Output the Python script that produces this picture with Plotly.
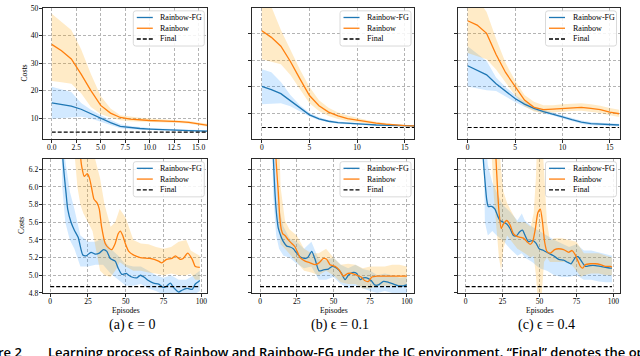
import plotly.graph_objects as go

W, H = 640, 356

# ------------------------------------------------------------------ data
FINAL_COST = 4.87
EP_TOP = list(range(17))

# top row: episodes 0..16
A_TOP_FG = [15.5, 15.0, 14.3, 13.2, 11.5, 9.8, 8.3, 7.0, 6.5, 6.2, 6.0, 5.8, 5.6, 5.5, 5.4, 5.3, 5.2]
A_TOP_FG_LO = [9.7, 10.0, 10.3, 10.5, 9.8, 8.6, 7.4, 6.3, 5.9, 5.7, 5.6, 5.4, 5.3, 5.2, 5.1, 5.0, 4.9]
A_TOP_FG_HI = [21.4, 20.5, 19.5, 15.5, 13.0, 11.0, 9.2, 7.7, 7.1, 6.7, 6.4, 6.2, 6.0, 5.8, 5.7, 5.6, 5.5]
A_TOP_R = [36.8, 34.5, 31.5, 26.0, 20.0, 14.6, 11.8, 10.2, 9.6, 9.3, 9.1, 9.0, 8.9, 8.7, 8.4, 7.9, 7.3]
A_TOP_R_LO = [23.5, 23.0, 22.5, 19.0, 14.0, 11.5, 10.2, 9.2, 8.8, 8.6, 8.5, 8.4, 8.3, 8.2, 7.9, 7.4, 6.8]
A_TOP_R_HI = [48.0, 45.0, 42.0, 35.0, 26.0, 18.0, 13.5, 11.0, 10.5, 10.1, 9.8, 9.6, 9.4, 9.2, 8.9, 8.4, 7.9]

B_TOP_FG = [20.2, 19.0, 17.5, 14.8, 12.0, 9.6, 8.1, 7.2, 6.7, 6.4, 6.2, 6.0, 5.8, 5.7, 5.6, 5.5, 5.45]
B_TOP_FG_LO = [13.5, 13.7, 13.9, 12.8, 10.8, 9.0, 7.6, 6.8, 6.3, 6.0, 5.9, 5.7, 5.55, 5.45, 5.35, 5.3, 5.25]
B_TOP_FG_HI = [26.6, 25.5, 21.8, 17.0, 13.2, 10.4, 8.7, 7.7, 7.1, 6.8, 6.5, 6.3, 6.1, 5.95, 5.85, 5.75, 5.7]
B_TOP_R = [41.0, 38.5, 35.2, 29.5, 23.0, 16.8, 13.0, 10.6, 9.2, 8.2, 7.6, 7.0, 6.5, 6.1, 5.8, 5.6, 5.5]
B_TOP_R_LO = [30.3, 29.5, 28.5, 24.5, 19.0, 13.9, 11.0, 9.2, 8.0, 7.2, 6.8, 6.3, 6.0, 5.7, 5.5, 5.35, 5.3]
B_TOP_R_HI = [56.0, 50.0, 41.3, 34.0, 26.5, 20.0, 15.0, 12.2, 10.5, 9.3, 8.4, 7.7, 7.0, 6.5, 6.1, 5.85, 5.7]

C_TOP_FG = [27.9, 26.3, 24.5, 21.2, 18.4, 15.7, 13.6, 12.0, 10.8, 9.9, 8.8, 7.8, 6.9, 6.3, 6.1, 6.0, 5.8]
C_TOP_FG_LO = [20.2, 19.5, 18.8, 18.5, 16.5, 14.4, 12.6, 11.2, 10.1, 9.3, 8.2, 7.2, 6.3, 5.7, 5.6, 5.5, 5.3]
C_TOP_FG_HI = [35.2, 32.5, 29.7, 23.5, 20.0, 17.0, 14.6, 12.8, 11.5, 10.5, 9.4, 8.4, 7.5, 6.9, 6.6, 6.5, 6.3]
C_TOP_R = [44.7, 43.1, 40.0, 32.1, 25.4, 20.0, 15.1, 12.4, 11.5, 11.7, 12.0, 12.3, 12.4, 12.0, 11.5, 10.6, 10.0]
C_TOP_R_LO = [32.7, 31.5, 30.3, 26.5, 21.5, 16.9, 12.8, 10.8, 10.2, 10.4, 10.8, 11.0, 11.1, 10.8, 10.3, 9.4, 8.8]
C_TOP_R_HI = [57.0, 53.0, 48.0, 38.0, 29.0, 22.4, 17.0, 14.5, 13.2, 13.2, 13.5, 13.8, 13.9, 13.5, 13.0, 12.1, 11.5]

# bottom row (a) eps = 0
A_BOT_FG_X = [0, 3, 6, 8.4, 10.5, 11.6, 13.8, 16, 18.5, 21.6, 23.8, 27, 29.8, 32.5, 35.3, 37.5, 39.7, 43, 45,
              47.4, 50.4, 52, 54, 57.4, 59.7, 62, 65, 68.4, 71.8, 75, 77.3, 79.5, 81.7, 85, 87.2, 90.5, 94, 96,
              98.3, 99]
A_BOT_FG = [15.5, 12.5, 8.0, 6.32, 5.93, 5.75, 5.60, 5.51, 5.43, 5.23, 5.22, 5.26, 5.24, 5.25, 5.29, 5.27, 5.19,
            5.16, 5.08, 5.01, 5.02, 5.00, 4.98, 4.97, 5.00, 4.98, 4.94, 4.91, 4.90, 4.86, 4.88, 4.91, 4.86, 4.81,
            4.83, 4.85, 4.84, 4.90, 4.93, 4.94]
A_BOT_FG_BX = [0, 5, 8, 10, 13, 16, 20, 25, 30, 35, 40, 45, 50, 55, 60, 65, 70, 75, 80, 85, 90, 95, 99]
A_BOT_FG_LO = [10.0, 9.0, 6.0, 5.6, 5.4, 5.3, 5.1, 5.1, 5.12, 5.12, 5.02, 4.95, 4.88, 4.88, 4.9, 4.85, 4.82,
               4.78, 4.78, 4.75, 4.76, 4.78, 4.82]
A_BOT_FG_HI = [21.0, 14.0, 7.5, 6.3, 5.95, 5.75, 5.45, 5.38, 5.38, 5.42, 5.3, 5.22, 5.12, 5.1, 5.1, 5.05, 5.0,
               4.97, 5.0, 4.95, 4.95, 5.0, 5.05]
A_BOT_R_X = [0, 5, 10, 15, 18, 20, 21, 22.5, 24.5, 26, 27.5, 29, 31, 32.5, 34, 36.4, 38.6, 40.8, 43, 45, 46.4,
             48, 49.7, 52, 55, 59.6, 66, 71.7, 73.8, 77, 80.5, 82.8, 86, 88, 91, 94, 96, 99]
A_BOT_R = [37.0, 14.6, 9.1, 7.9, 6.8, 6.35, 6.22, 6.12, 6.15, 6.1, 5.98, 5.86, 5.82, 5.75, 5.55, 5.36, 5.31,
           5.29, 5.36, 5.47, 5.50, 5.45, 5.36, 5.27, 5.23, 5.20, 5.19, 5.16, 5.14, 5.18, 5.19, 5.22, 5.18, 5.19,
           5.25, 5.18, 5.10, 5.09]
A_BOT_R_BX = [0, 5, 10, 15, 18, 20, 22, 25, 28, 30, 33, 36, 40, 43, 46, 50, 55, 60, 65, 70, 75, 80, 85, 90,
              93, 96, 99]
A_BOT_R_LO = [25.0, 11.0, 8.0, 6.6, 6.0, 5.8, 5.7, 5.6, 5.5, 5.3, 5.05, 5.0, 4.98, 5.05, 5.15, 5.1, 5.05, 5.05,
              5.03, 5.02, 5.0, 5.02, 5.0, 5.0, 5.02, 4.95, 4.95]
A_BOT_R_HI = [48.0, 20.0, 11.0, 8.6, 7.6, 7.0, 6.7, 6.6, 6.5, 6.3, 6.1, 5.8, 5.55, 5.6, 5.75, 5.65, 5.4, 5.36,
              5.35, 5.32, 5.3, 5.32, 5.38, 5.4, 5.28, 5.25, 5.22]

# bottom row (b) eps = 0.1
B_BOT_FG_X = [0, 4, 7, 9.1, 10.2, 11.4, 12.5, 14.3, 15.9, 18.2, 20.5, 22.7, 25, 27.3, 30.2, 32.5, 35.2, 37.5,
              40.2, 43.2, 46.6, 49.3, 52.3, 55.2, 57.9, 60.2, 62.9, 65.9, 68.2, 70.5, 72.7, 75.7, 78, 80.7, 84.1,
              87.5, 91, 94.3, 97.7, 100]
B_BOT_FG = [20.0, 12.0, 7.5, 6.32, 5.93, 5.67, 5.53, 5.44, 5.38, 5.33, 5.32, 5.30, 5.25, 5.21, 5.19, 5.20, 5.27,
            5.18, 5.05, 5.06, 5.07, 5.10, 5.08, 5.03, 4.95, 5.00, 5.03, 5.02, 4.95, 4.97, 4.97, 4.94, 4.89, 4.89,
            4.93, 4.92, 4.90, 4.88, 4.88, 4.89]
B_BOT_FG_BX = [0, 5, 9, 11, 13, 16, 20, 25, 30, 35, 40, 45, 50, 55, 60, 65, 70, 75, 80, 85, 90, 95, 100]
B_BOT_FG_LO = [13.0, 8.0, 5.9, 5.45, 5.3, 5.22, 5.2, 5.13, 5.08, 5.1, 4.95, 4.95, 4.98, 4.9, 4.85, 4.88, 4.85,
               4.82, 4.8, 4.82, 4.8, 4.8, 4.8]
B_BOT_FG_HI = [27.0, 16.0, 7.0, 6.2, 5.75, 5.55, 5.42, 5.38, 5.3, 5.38, 5.18, 5.17, 5.2, 5.12, 5.08, 5.12, 5.07,
               5.05, 5.0, 5.02, 5.0, 4.97, 4.98]
B_BOT_R_X = [0, 4, 8, 10.9, 12.5, 13.5, 14.5, 15.5, 17, 19.3, 21.6, 23.9, 27.3, 30.7, 34.1, 37.5, 40.2, 43.2,
             45.4, 47.7, 51.1, 53.9, 56.8, 59.8, 62.5, 65.9, 68.9, 71.2, 73.9, 76.2, 79.6, 83, 87.5, 92.1, 96.6,
             100]
B_BOT_R = [41.0, 20.0, 9.0, 6.32, 5.93, 5.65, 5.52, 5.47, 5.45, 5.40, 5.36, 5.32, 5.20, 5.16, 5.14, 5.12, 5.14,
           5.19, 5.18, 5.12, 5.10, 5.06, 4.99, 5.02, 5.02, 5.00, 4.98, 4.94, 4.93, 4.98, 4.99, 4.99, 4.99, 4.99,
           4.99, 4.99]
B_BOT_R_BX = [0, 5, 10, 12, 14, 17, 20, 25, 30, 35, 40, 45, 50, 55, 60, 65, 70, 75, 80, 85, 90, 95, 100]
B_BOT_R_LO = [30.0, 13.0, 7.5, 5.7, 5.35, 5.3, 5.25, 5.15, 5.05, 5.03, 5.0, 5.05, 5.0, 4.92, 4.9, 4.9, 4.85,
              4.85, 4.88, 4.88, 4.88, 4.88, 4.88]
B_BOT_R_HI = [55.0, 30.0, 12.0, 7.2, 6.0, 5.62, 5.52, 5.45, 5.3, 5.25, 5.25, 5.3, 5.2, 5.12, 5.13, 5.12, 5.08,
              5.1, 5.1, 5.1, 5.12, 5.12, 5.1]

# bottom row (c) eps = 0.4
C_BOT_FG_X = [0, 4, 8, 11.9, 13, 14.2, 15.3, 17.6, 19.8, 21.7, 23.3, 25.5, 27.8, 30, 32.3, 34.6, 36.4, 38.4,
              40.2, 42.5, 44.3, 45.9, 47.7, 49.7, 52.7, 56.1, 59.5, 62.9, 66.3, 68.6, 71.3, 74.2, 76, 78.3, 81,
              84.4, 87.8, 91.2, 94.6, 98, 99]
C_BOT_FG = [28.0, 15.0, 8.5, 6.32, 6.08, 5.86, 5.78, 5.78, 5.75, 5.67, 5.62, 5.60, 5.58, 5.53, 5.45, 5.45, 5.49,
            5.51, 5.45, 5.38, 5.39, 5.39, 5.36, 5.30, 5.28, 5.25, 5.22, 5.18, 5.17, 5.15, 5.13, 5.20, 5.21, 5.16,
            5.10, 5.11, 5.11, 5.10, 5.09, 5.08, 5.08]
C_BOT_FG_BX = [0, 5, 10, 13, 15, 18, 21, 25, 30, 35, 38, 40, 45, 50, 55, 60, 65, 70, 75, 80, 85, 90, 95, 99]
C_BOT_FG_LO = [20.0, 12.0, 6.5, 5.6, 5.45, 5.5, 5.45, 5.4, 5.3, 5.22, 5.25, 5.2, 5.15, 5.08, 5.05, 5.0, 4.98,
               4.98, 5.0, 4.95, 4.95, 4.93, 4.92, 4.92]
C_BOT_FG_HI = [35.0, 20.0, 9.0, 6.6, 6.25, 6.05, 5.95, 5.8, 5.72, 5.62, 5.7, 5.62, 5.55, 5.5, 5.45, 5.4, 5.36,
               5.32, 5.35, 5.28, 5.28, 5.26, 5.24, 5.22]
C_BOT_R_X = [0, 5, 10, 15, 20.5, 21.7, 22.6, 24, 25.5, 27.8, 30, 32.3, 34.6, 36.9, 39.1, 41.4, 43.6, 45.3, 47,
             48.9, 50.5, 52, 53.4, 55, 57.3, 60.2, 62.9, 66.3, 69.7, 72, 74.2, 76, 77.6, 79.2, 81, 84.4, 87.8,
             91.2, 94.6, 98, 99]
C_BOT_R = [45.0, 20.0, 12.0, 8.0, 6.32, 5.93, 5.71, 5.53, 5.58, 5.62, 5.57, 5.47, 5.44, 5.43, 5.42, 5.38, 5.35,
           5.38, 5.51, 5.71, 5.75, 5.60, 5.38, 5.27, 5.25, 5.29, 5.30, 5.29, 5.26, 5.28, 5.23, 5.16, 5.10, 5.08,
           5.12, 5.13, 5.13, 5.12, 5.10, 5.10, 5.09]
C_BOT_R_BX = [0, 5, 10, 15, 19, 21, 22.5, 24, 25.5, 28, 30, 35, 40, 44, 46, 47.5, 48.5, 50, 51.5, 53, 55, 57,
              60, 65, 70, 75, 78, 80, 85, 90, 95, 99]
C_BOT_R_LO = [32.0, 16.0, 10.5, 7.2, 5.9, 5.5, 5.2, 5.05, 5.3, 5.45, 5.4, 5.3, 5.25, 5.2, 5.22, 5.0, 4.78, 4.78,
              4.78, 5.15, 5.2, 5.15, 5.15, 5.15, 5.15, 5.05, 4.98, 5.0, 5.02, 5.02, 5.0, 5.0]
C_BOT_R_HI = [57.0, 25.0, 14.0, 9.5, 7.5, 6.9, 6.5, 6.2, 5.95, 5.82, 5.75, 5.6, 5.6, 5.55, 5.7, 6.1, 6.6, 6.6,
              6.6, 6.2, 5.6, 5.4, 5.42, 5.42, 5.4, 5.38, 5.3, 5.25, 5.25, 5.25, 5.22, 5.2]

SERIES_NAMES = ["Rainbow-FG", "Rainbow", "Final"]
CAPTIONS = ["(a) \u03f5 = 0", "(b) \u03f5 = 0.1", "(c) \u03f5 = 0.4"]
FIG_LABEL = "re 2"
FIG_CAPTION = "Learning process of Rainbow and Rainbow-FG under the IC environment. \u201cFinal\u201d denotes the optimal"

# ------------------------------------------------------------------ style
BLUE, ORANGE = "#1f77b4", "#ff7f0e"
BLUE_FILL, ORANGE_FILL = "rgba(30,144,255,0.2)", "rgba(255,165,0,0.22)"
SERIF = "Liberation Serif"
FRAME = "#2a2a2a"
GRID = "#b4b4b4"

# axes geometry in pixels
X_PX = [(42.7, 207.3), (251.8, 414.0), (458.0, 619.5)]
Y_PX = [(4.0, 138.3), (158.3, 295.7)]


def xdom(c):
    return [X_PX[c][0] / W, X_PX[c][1] / W]


def ydom(r):
    return [1 - Y_PX[r][1] / H, 1 - Y_PX[r][0] / H]


def px(xp):
    return xp / W


def py(yp):
    return 1 - yp / H


panels = [
    (0, 0, (EP_TOP, A_TOP_FG, EP_TOP, A_TOP_FG_LO, A_TOP_FG_HI),
     (EP_TOP, A_TOP_R, EP_TOP, A_TOP_R_LO, A_TOP_R_HI), [-0.92, 15.88], [2.3, 50.08], [0, 16]),
    (0, 1, (EP_TOP, B_TOP_FG, EP_TOP, B_TOP_FG_LO, B_TOP_FG_HI),
     (EP_TOP, B_TOP_R, EP_TOP, B_TOP_R_LO, B_TOP_R_HI), [-1.05, 15.97], [0.5, 49.5], [0, 16]),
    (0, 2, (EP_TOP, C_TOP_FG, EP_TOP, C_TOP_FG_LO, C_TOP_FG_HI),
     (EP_TOP, C_TOP_R, EP_TOP, C_TOP_R_LO, C_TOP_R_HI), [-1.02, 16.03], [0.5, 49.5], [0, 16]),
    (1, 0, (A_BOT_FG_X, A_BOT_FG, A_BOT_FG_BX, A_BOT_FG_LO, A_BOT_FG_HI),
     (A_BOT_R_X, A_BOT_R, A_BOT_R_BX, A_BOT_R_LO, A_BOT_R_HI), [-4.95, 103.95], [4.798, 6.32], [0, 99]),
    (1, 1, (B_BOT_FG_X, B_BOT_FG, B_BOT_FG_BX, B_BOT_FG_LO, B_BOT_FG_HI),
     (B_BOT_R_X, B_BOT_R, B_BOT_R_BX, B_BOT_R_LO, B_BOT_R_HI), [-5.6, 104.9], [4.798, 6.32], [0, 100]),
    (1, 2, (C_BOT_FG_X, C_BOT_FG, C_BOT_FG_BX, C_BOT_FG_LO, C_BOT_FG_HI),
     (C_BOT_R_X, C_BOT_R, C_BOT_R_BX, C_BOT_R_LO, C_BOT_R_HI), [-5.2, 104.1], [4.798, 6.32], [0, 99]),
]

fig = go.Figure()
layout = dict(
    width=W, height=H, margin=dict(l=0, r=0, t=0, b=0),
    paper_bgcolor="white", plot_bgcolor="white", showlegend=False,
    font=dict(family=SERIF, size=7.5, color="black"),
)
shapes, annotations = [], []

for i, (row, col, fg, rb, xr, yr, fx) in enumerate(panels):
    n = "" if i == 0 else str(i + 1)
    xa, ya = "x" + n, "y" + n
    for (sx, sy, bx, lo, hi), fill in ((fg, BLUE_FILL), (rb, ORANGE_FILL)):
        fig.add_trace(go.Scatter(
            x=list(bx) + list(bx)[::-1], y=list(hi) + list(lo)[::-1], fill="toself",
            fillcolor=fill, line=dict(width=0), mode="lines", hoverinfo="skip",
            xaxis=xa, yaxis=ya))
    shape_kind = "linear" if row == 0 else "spline"
    for (sx, sy, bx, lo, hi), color, name in ((fg, BLUE, SERIES_NAMES[0]), (rb, ORANGE, SERIES_NAMES[1])):
        fig.add_trace(go.Scatter(
            x=sx, y=sy, mode="lines", name=name,
            line=dict(color=color, width=1.3, shape=shape_kind, smoothing=0.6),
            xaxis=xa, yaxis=ya))
    fig.add_trace(go.Scatter(
        x=fx, y=[FINAL_COST, FINAL_COST], mode="lines", name=SERIES_NAMES[2],
        line=dict(color="black", width=1.2, dash="4px,2px"), xaxis=xa, yaxis=ya))

    top = row == 0
    common = dict(showline=True, mirror=True, linecolor=FRAME, linewidth=1,
                  ticks="outside", ticklen=3, tickwidth=0.8, tickcolor=FRAME, zeroline=False,
                  showgrid=True, gridcolor=GRID, gridwidth=0.7, griddash="3px,2px",
                  ticklabeloverflow="allow",
                  tickfont=dict(family=SERIF, size=7.5, color="black"))
    layout["xaxis" + n] = dict(
        domain=xdom(col), range=xr, anchor=ya, ticklabelstandoff=-2,
        tick0=0, dtick=(2.5 if (top and col == 0) else (5 if top else 25)),
        tickformat=(".1f" if (top and col == 0) else "d"), **common)
    layout["yaxis" + n] = dict(
        domain=ydom(row), range=yr, anchor=xa, ticklabelstandoff=-1,
        tick0=0 if top else 4.8, dtick=10 if top else 0.2, tickformat="d" if top else ".1f",
        showticklabels=(col == 0), **common)

    # legend box (top-right of each axes)
    R = X_PX[col][1] - 3
    L = R - 71
    T = Y_PX[row][0] + 3
    B = T + 36
    r = 2.5
    path = (f"M {px(L + r)},{py(T)} L {px(R - r)},{py(T)} Q {px(R)},{py(T)} {px(R)},{py(T + r)} "
            f"L {px(R)},{py(B - r)} Q {px(R)},{py(B)} {px(R - r)},{py(B)} "
            f"L {px(L + r)},{py(B)} Q {px(L)},{py(B)} {px(L)},{py(B - r)} "
            f"L {px(L)},{py(T + r)} Q {px(L)},{py(T)} {px(L + r)},{py(T)} Z")
    shapes.append(dict(type="path", xref="paper", yref="paper", path=path,
                       line=dict(color="#d0d0d0", width=0.8), fillcolor="rgba(255,255,255,0.85)",
                       layer="above"))
    for k, (name, color, dash) in enumerate(zip(SERIES_NAMES, (BLUE, ORANGE, "black"),
                                                ("solid", "solid", "4px,2px"))):
        yy = T + 6.8 + k * 11.0
        shapes.append(dict(type="line", xref="paper", yref="paper", x0=px(L + 3.5), x1=px(L + 19.5),
                           y0=py(yy), y1=py(yy), line=dict(color=color, width=1.3, dash=dash),
                           layer="above"))
        annotations.append(dict(text=name, xref="paper", yref="paper", x=px(L + 25), y=py(yy),
                                xanchor="left", yanchor="middle", showarrow=False,
                                font=dict(family=SERIF, size=8, color="black")))

    if col == 0:
        annotations.append(dict(text="Costs", xref="paper", yref="paper", x=px(25 if top else 22),
                                y=py((Y_PX[row][0] + Y_PX[row][1]) / 2), textangle=-90,
                                xanchor="center", yanchor="middle", showarrow=False,
                                font=dict(family=SERIF, size=7.7, color="black")))
    if not top:
        annotations.append(dict(text="Episodes", xref="paper", yref="paper",
                                x=px((X_PX[col][0] + X_PX[col][1]) / 2 + 1), y=py(313.5),
                                xanchor="center", yanchor="middle", showarrow=False,
                                font=dict(family=SERIF, size=7.7, color="black")))
        annotations.append(dict(text=CAPTIONS[col], xref="paper", yref="paper",
                                x=px([132, 340, 546.5][col]), y=py(328),
                                xanchor="center", yanchor="middle", showarrow=False,
                                font=dict(family=SERIF, size=14, color="black")))

annotations.append(dict(text=FIG_LABEL, xref="paper", yref="paper", x=px(-4), y=py(344.5), xanchor="left",
                        yanchor="top", showarrow=False,
                        font=dict(family="Open Sans", size=13, color="black", weight=600)))
annotations.append(dict(text=FIG_CAPTION, xref="paper", yref="paper", x=px(45.5), y=py(344.5),
                        xanchor="left", yanchor="top", showarrow=False,
                        font=dict(family="Open Sans", size=13, color="black", weight=600)))

layout["shapes"] = shapes
layout["annotations"] = annotations
fig.update_layout(**layout)

fig.write_html(
    "out.html", config={"displayModeBar": False},
    post_script=("var s='margin:0;padding:0;overflow:hidden;width:640px;height:356px;';"
                 "document.documentElement.style.cssText=s;document.body.style.cssText=s;"))
